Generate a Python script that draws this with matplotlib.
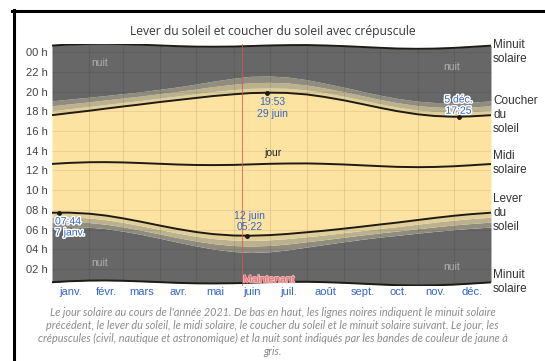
import numpy as np
import matplotlib
matplotlib.use("Agg")
import matplotlib.pyplot as plt
from matplotlib import patheffects as pe
from matplotlib.lines import Line2D

plt.rcParams['font.family'] = ['Liberation Sans', 'DejaVu Sans']

# day of year (0 = 1 janv.), 1st and 15th of each month
days = [0, 14, 31, 45, 59, 73, 90, 104, 120, 134, 151, 165, 181, 195,
        212, 226, 243, 257, 273, 287, 304, 318, 334, 348, 365]
solar_noon = [12.66, 12.76, 12.83, 12.84, 12.81, 12.75, 12.67, 12.60, 12.55,
              12.54, 12.56, 12.61, 12.67, 12.70, 12.71, 12.67, 12.60, 12.52,
              12.43, 12.36, 12.33, 12.35, 12.42, 12.52, 12.65]
midnight_prev = [0.66, 0.76, 0.83, 0.84, 0.81, 0.75, 0.67, 0.60, 0.55, 0.54,
                 0.56, 0.61, 0.67, 0.70, 0.71, 0.67, 0.60, 0.52, 0.43, 0.36,
                 0.33, 0.35, 0.42, 0.52, 0.65]
midnight_next = [24.66, 24.76, 24.83, 24.84, 24.81, 24.75, 24.67, 24.60,
                 24.55, 24.54, 24.56, 24.61, 24.67, 24.70, 24.71, 24.67,
                 24.60, 24.52, 24.43, 24.36, 24.33, 24.35, 24.42, 24.52, 24.65]
sunrise = [7.71, 7.72, 7.61, 7.42, 7.14, 6.82, 6.40, 6.07, 5.75, 5.54, 5.40,
           5.38, 5.44, 5.55, 5.73, 5.88, 6.10, 6.29, 6.52, 6.71, 6.97, 7.18,
           7.40, 7.56, 7.71]
sunset = [17.60, 17.81, 18.05, 18.27, 18.48, 18.68, 18.94, 19.13, 19.35,
          19.54, 19.72, 19.84, 19.88, 19.86, 19.70, 19.46, 19.10, 18.75,
          18.34, 18.01, 17.69, 17.52, 17.44, 17.48, 17.60]
# twilight durations (hours) before sunrise / after sunset
civil_dur = [0.45, 0.44, 0.43, 0.42, 0.41, 0.40, 0.40, 0.41, 0.43, 0.45,
             0.47, 0.48, 0.48, 0.47, 0.45, 0.43, 0.41, 0.40, 0.40, 0.41,
             0.42, 0.43, 0.44, 0.45, 0.45]
nautical_dur = [0.95, 0.93, 0.90, 0.88, 0.86, 0.85, 0.85, 0.87, 0.91, 0.96,
                1.02, 1.05, 1.05, 1.02, 0.96, 0.91, 0.87, 0.85, 0.85, 0.86,
                0.88, 0.91, 0.93, 0.95, 0.95]
astro_dur = [1.45, 1.42, 1.37, 1.33, 1.30, 1.28, 1.29, 1.33, 1.41, 1.51,
             1.63, 1.70, 1.69, 1.62, 1.50, 1.40, 1.33, 1.29, 1.28, 1.30,
             1.33, 1.37, 1.41, 1.44, 1.45]

event_days = [6, 162, 179, 338]
event_times = [7.73, 5.37, 19.88, 17.42]
event_labels = ['07:44\n7 janv.', '12 juin\n05:22', '19:53\n29 juin', '5 déc.\n17:25']
now_day = 158

month_starts = [0, 31, 59, 90, 120, 151, 181, 212, 243, 273, 304, 334, 365]
month_labels = ['janv.', 'févr.', 'mars', 'avr.', 'mai', 'juin', 'juil.',
                'août', 'sept.', 'oct.', 'nov.', 'déc.']
hour_ticks = [2, 4, 6, 8, 10, 12, 14, 16, 18, 20, 22, 24]
hour_labels = ['02 h', '04 h', '06 h', '08 h', '10 h', '12 h', '14 h',
               '16 h', '18 h', '20 h', '22 h', '00 h']

x = np.array(days)
rise = np.array(sunrise)
sset = np.array(sunset)
civ = np.array(civil_dur)
nau = np.array(nautical_dur)
ast = np.array(astro_dur)

c_day = '#fde3a1'
c_civil = '#e0cf98'
c_naut = '#bbb18c'
c_astro = '#908c7e'
c_night = '#676767'
blue = '#3366cc'

fig = plt.figure(figsize=(5.45, 3.61), dpi=100)
ax = fig.add_axes([0.0954, 0.2083, 0.8055, 0.6707])

ax.fill_between(x, midnight_prev, rise - ast, color=c_night, lw=0)
ax.fill_between(x, rise - ast, rise - nau, color=c_astro, lw=0)
ax.fill_between(x, rise - nau, rise - civ, color=c_naut, lw=0)
ax.fill_between(x, rise - civ, rise, color=c_civil, lw=0)
ax.fill_between(x, rise, sset, color=c_day, lw=0)
ax.fill_between(x, sset, sset + civ, color=c_civil, lw=0)
ax.fill_between(x, sset + civ, sset + nau, color=c_naut, lw=0)
ax.fill_between(x, sset + nau, sset + ast, color=c_astro, lw=0)
ax.fill_between(x, sset + ast, midnight_next, color=c_night, lw=0)

# grid clipped to the coloured area
clip = ax.fill_between(x, midnight_prev, midnight_next, color='none', lw=0)
clip_path = clip.get_paths()[0]
for m in month_starts[1:-1]:
    ln = ax.axvline(m, color='black', alpha=0.09, lw=0.8)
    ln.set_clip_path(clip_path, ax.transData)
for h in hour_ticks:
    ln = ax.axhline(h, color='black', alpha=0.07, lw=0.8)
    ln.set_clip_path(clip_path, ax.transData)

for series in (midnight_prev, sunrise, solar_noon, sunset, midnight_next):
    ax.plot(x, series, color='#1e1a14', lw=1.4, solid_capstyle='butt')

ax.axvline(now_day, color='#d9534f', lw=0.8, alpha=0.7)
ax.text(now_day + 0.8, 0.95, 'Maintenant', color='#e06c6c', fontsize=7.5,
        ha='left', va='center',
        path_effects=[pe.withStroke(linewidth=1.2, foreground='#eeb5b5')])

ax.plot(event_days, event_times, 'o', color='#1e1a14', ms=2.5)
halo = [pe.withStroke(linewidth=2, foreground='white')]
ax.text(event_days[0] - 3.5, 7.35, event_labels[0], color=blue, fontsize=7.5,
        ha='left', va='top', linespacing=1.15, path_effects=halo)
ax.text(event_days[1] + 2, 5.75, event_labels[1], color=blue, fontsize=7.5,
        ha='center', va='bottom', linespacing=1.15)
ax.text(event_days[2] + 4, 19.4, event_labels[2], color=blue, fontsize=7.5,
        ha='center', va='top', linespacing=1.15)
ax.text(event_days[3], 17.55, event_labels[3], color=blue, fontsize=7.5,
        ha='center', va='bottom', linespacing=1.15, path_effects=halo)

ax.text(184, 13.75, 'jour', color='#222222', fontsize=7.5, ha='center', va='center')
for nx, ny in [(40, 22.9), (40, 2.6), (332, 22.5), (332, 2.2)]:
    ax.text(nx, ny, 'nuit', color='#b0b0b0', fontsize=7.5, ha='center', va='center')

ax.set_xlim(0, 365)
ax.set_ylim(0.3, 24.85)
ax.set_yticks(hour_ticks)
ax.set_yticklabels(hour_labels, fontsize=8, color='#444444')
mid_month = [(a + b) / 2 for a, b in zip(month_starts[:-1], month_starts[1:])]
ax.set_xticks(mid_month)
ax.set_xticklabels(month_labels, fontsize=8, color=blue)
ax.tick_params(axis='y', length=0, pad=3)
ax.tick_params(axis='x', length=0, pad=1)
for s in ax.spines.values():
    s.set_visible(False)

# right-hand labels
right_x = 493 / 545
for txt, ypx in [('Minuit\nsolaire', 52), ('Coucher\ndu\nsoleil', 115),
                 ('Midi\nsolaire', 163), ('Lever\ndu\nsoleil', 213),
                 ('Minuit\nsolaire', 282)]:
    fig.text(right_x, 1 - ypx / 361, txt, fontsize=8.5, color='#333333',
             ha='left', va='center', linespacing=1.2)

fig.text(0.5, 1 - 32 / 361, 'Lever du soleil et coucher du soleil avec crépuscule',
         fontsize=8.7, color='#3a3a3a', ha='center', va='center', family='Open Sans')

caption = ("Le jour solaire au cours de l'année 2021. De bas en haut, les lignes noires indiquent le minuit solaire\n"
           "précédent, le lever du soleil, le midi solaire, le coucher du soleil et le minuit solaire suivant. Le jour, les\n"
           "crépuscules (civil, nautique et astronomique) et la nuit sont indiqués par les bandes de couleur de jaune à\n"
           "gris.")
fig.text(0.5, 1 - 332 / 361, caption, fontsize=7.8, color='#8c8c8c', ha='center',
         va='center', style='italic', family='Lato', linespacing=1.25)

# black frame at the top-left
fig.add_artist(Line2D([13.5 / 545, 13.5 / 545], [0, 1 - 9.5 / 361],
                      transform=fig.transFigure, color='black', lw=2.2))
fig.add_artist(Line2D([12 / 545, 1], [1 - 11 / 361, 1 - 11 / 361],
                      transform=fig.transFigure, color='black', lw=2.2))

fig.savefig('out.png', dpi=100)
